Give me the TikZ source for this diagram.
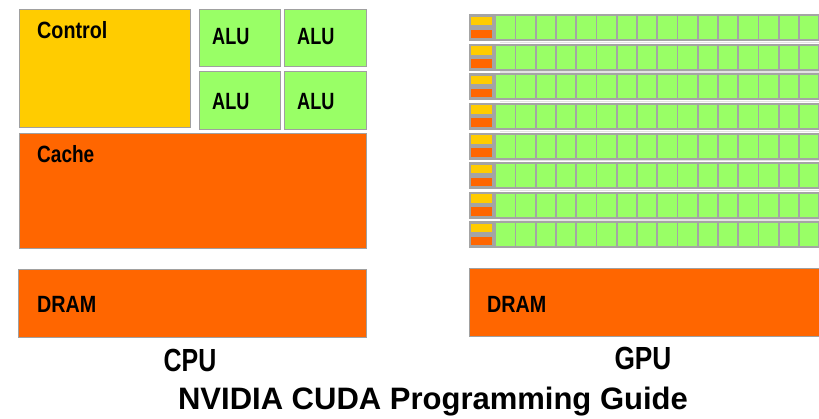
\documentclass[tikz,border=0pt]{standalone}
\usepackage{fontspec}
\setmainfont{Liberation Sans}
\usepackage{graphicx}
\definecolor{ctrl}{HTML}{FFCC00}
\definecolor{cache}{HTML}{FF6600}
\definecolor{alu}{HTML}{99FF66}
\definecolor{edge}{HTML}{A0A0A0}
\definecolor{rowgray}{HTML}{A4A4A4}
\definecolor{gapgray}{HTML}{E2E2E2}
\begin{document}
\begin{tikzpicture}[x=1pt,y=-1pt,
  box/.style={draw=edge, line width=1.3pt, inner sep=0pt, anchor=north west},
  flat/.style={draw=none, inner sep=0pt, anchor=north west},
  lab/.style={font=\bfseries\fontsize{23.5}{23.5}\selectfont, inner sep=0pt, anchor=base west},
  big/.style={font=\bfseries\fontsize{32}{32}\selectfont, inner sep=0pt, anchor=base},
  ttl/.style={font=\bfseries\fontsize{31}{31}\selectfont, inner sep=0pt, anchor=base}]
\useasboundingbox[fill=white] (0,0) rectangle (819,419);
% CPU
\node[box, fill=ctrl, minimum width=171pt, minimum height=118pt] (control) at (19,9) {};
\node[box, fill=alu, minimum width=81pt, minimum height=57pt] (alu11) at (199,9) {};
\node[box, fill=alu, minimum width=82pt, minimum height=57pt] (alu12) at (284,9) {};
\node[box, fill=alu, minimum width=81pt, minimum height=58pt] (alu21) at (199,71) {};
\node[box, fill=alu, minimum width=82pt, minimum height=58pt] (alu22) at (284,71) {};
\node[box, fill=cache, minimum width=347pt, minimum height=115pt] (cache) at (19,133) {};
\node[box, fill=cache, minimum width=348pt, minimum height=68pt] (dram1) at (18,269) {};
\node[lab] (tcontrol) at (37,39) {\scalebox{0.84}[1]{Control}};
\node[lab] (talu11) at (212,45) {\scalebox{0.77}[1]{ALU}};
\node[lab] (talu12) at (297,45) {\scalebox{0.77}[1]{ALU}};
\node[lab] (talu21) at (212,110) {\scalebox{0.77}[1]{ALU}};
\node[lab] (talu22) at (297,110) {\scalebox{0.77}[1]{ALU}};
\node[lab] (tcache) at (37,163) {\scalebox{0.81}[1]{Cache}};
\node[lab] (tdram1) at (37,313) {\scalebox{0.84}[1]{DRAM}};
% GPU
\foreach \r in {0,...,7} {
  \pgfmathsetmacro\t{14+29.6*\r}
  \ifnum\r>0
    \node[flat, fill=gapgray, minimum width=350pt, minimum height=1.2pt] (gap\r) at (500,\t-1.9) {};
  \fi
  \node[flat, fill=rowgray, minimum width=360pt, minimum height=27pt] (row\r) at (469,\t) {};
  \node[flat, fill=ctrl, minimum width=21pt, minimum height=8.5pt] (gy\r) at (471,\t+2.5) {};
  \node[flat, fill=cache, minimum width=21pt, minimum height=8.5pt] (go\r) at (471,\t+15.5) {};
  \foreach \c in {0,...,15} {
    \pgfmathsetmacro\xx{496+20.25*\c}
    \node[flat, fill=alu, minimum width=18.5pt, minimum height=23pt] (gc\r-\c) at (\xx,\t+2) {};
  }
}
\node[box, fill=cache, minimum width=360pt, minimum height=68pt] (dram2) at (469,268) {};
\node[lab] (tdram2) at (487,313) {\scalebox{0.84}[1]{DRAM}};
% labels
\node[big] (cpu) at (190,371) {\scalebox{0.78}[1]{CPU}};
\node[big] (gpu) at (643,370) {\scalebox{0.82}[1]{GPU}};
\node[ttl] (title) at (433,409) {NVIDIA CUDA Programming Guide};
\end{tikzpicture}
\end{document}
